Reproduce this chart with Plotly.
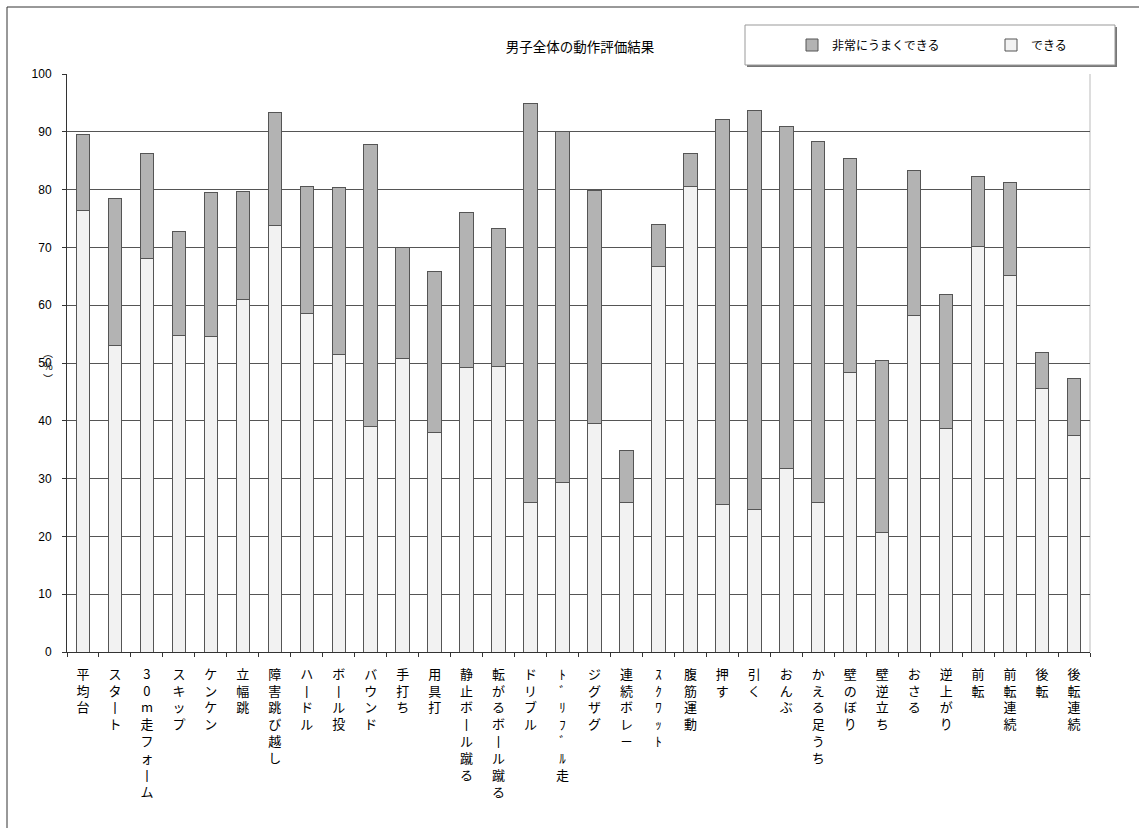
import plotly.graph_objects as go

# ---- data ----
categories = ["平均台", "スタート", "30m走フォーム", "スキップ", "ケンケン", "立幅跳",
              "障害跳び越し", "ハードル", "ボール投", "バウンド", "手打ち", "用具打",
              "静止ボール蹴る", "転がるボール蹴る", "ドリブル", "ﾄﾞﾘﾌﾞﾙ走", "ジグザグ",
              "連続ボレ－", "ｽｸﾜｯﾄ", "腹筋運動", "押す", "引く", "おんぶ", "かえる足うち",
              "壁のぼり", "壁逆立ち", "おさる", "逆上がり", "前転", "前転連続", "後転", "後転連続"]

dekiru = [76.3, 53.0, 68.0, 54.8, 54.5, 61.0, 73.8, 58.6, 51.4, 39.0, 50.7, 38.0,
          49.2, 49.4, 25.9, 29.3, 39.5, 25.9, 66.7, 80.5, 25.5, 24.7, 31.8, 25.9,
          48.3, 20.6, 58.2, 38.7, 70.2, 65.2, 45.6, 37.4]

hijou = [13.2, 25.4, 18.2, 18.0, 25.0, 18.7, 19.6, 21.9, 28.9, 48.8, 19.3, 27.9,
         26.9, 23.8, 69.0, 60.7, 40.4, 8.9, 7.3, 5.7, 66.6, 69.0, 59.2, 62.5,
         37.0, 29.9, 25.1, 23.2, 12.1, 16.1, 6.3, 10.0]

y_ticks = [0, 10, 20, 30, 40, 50, 60, 70, 80, 90, 100]

title_text = "男子全体の動作評価結果"
name_hijou = "非常にうまくできる"
name_dekiru = "できる"


def vertical(s):
    return "<br>".join("丨" if c == "ー" else c for c in s)


tick_text = [vertical(c) for c in categories]

# ---- layout geometry (pixels) ----
W, H = 1139, 828
L, R, T, B = 67, 1090, 74, 652


def px(x):
    return (x - L) / (R - L)


def py(y):
    return (B - y) / (B - T)


jp_font = "Noto Sans CJK JP"
num_font = "Liberation Sans, Arial"

fig = go.Figure()
fig.add_trace(go.Bar(
    x=categories, y=dekiru, name=name_dekiru, legend="legend2",
    marker=dict(color="#f2f2f2", line=dict(color="#555555", width=1)),
    width=0.42,
))
fig.add_trace(go.Bar(
    x=categories, y=hijou, name=name_hijou, legend="legend",
    marker=dict(color="#b3b3b3", line=dict(color="#555555", width=1)),
    width=0.42,
))

shapes = [
    # outer frame (top and left edges)
    dict(type="line", xref="paper", yref="paper", x0=px(7), x1=px(1145), y0=py(7), y1=py(7),
         line=dict(color="#333333", width=1)),
    dict(type="line", xref="paper", yref="paper", x0=px(7), x1=px(7), y0=py(7), y1=py(835),
         line=dict(color="#333333", width=1)),
    # plot area right border
    dict(type="line", xref="paper", yref="paper", x0=1, x1=1, y0=0, y1=1,
         line=dict(color="#bbbbbb", width=1), layer="below"),
    # legend box shadow + box
    dict(type="rect", xref="paper", yref="paper", x0=px(747), x1=px(1117), y0=py(67), y1=py(27),
         fillcolor="#777777", line=dict(width=0)),
    dict(type="rect", xref="paper", yref="paper", x0=px(745), x1=px(1115), y0=py(65), y1=py(25),
         fillcolor="white", line=dict(color="#999999", width=1)),
]

legend_common = dict(orientation="h", yanchor="middle", xanchor="left",
                     bgcolor="rgba(0,0,0,0)", borderwidth=0,
                     font=dict(family=jp_font, size=12, color="black"),
                     itemwidth=30)

fig.update_layout(
    width=W, height=H,
    margin=dict(l=L, r=W - R, t=T, b=H - B, pad=0, autoexpand=False),
    paper_bgcolor="white", plot_bgcolor="white",
    barmode="stack",
    title=dict(text=title_text, x=580 / W, xanchor="center", xref="container",
               y=1 - 47 / H, yanchor="middle",
               font=dict(family=jp_font, size=13.5, color="black")),
    legend=dict(x=px(792), y=py(45), **legend_common),
    legend2=dict(x=px(991), y=py(45), **legend_common),
    shapes=shapes,
    showlegend=True,
)

fig.update_xaxes(
    type="category", automargin=False,
    tickmode="array", tickvals=categories, ticktext=tick_text,
    tickangle=0,
    tickson="boundaries", ticks="outside", ticklen=4, tickcolor="#333333",
    showline=True, linecolor="#333333", linewidth=1,
    showgrid=False,
    tickfont=dict(family=jp_font, size=13, color="black"),
    ticklabelstandoff=10,
    range=[-0.5, len(categories) - 0.5],
)

fig.update_yaxes(
    range=[0, 100], automargin=False,
    tickmode="array", tickvals=y_ticks,
    ticks="outside", ticklen=4, tickcolor="#333333",
    showline=True, linecolor="#333333", linewidth=1,
    showgrid=True, gridcolor="#555555", gridwidth=1,
    zeroline=False,
    tickfont=dict(family=num_font, size=12, color="black"),
    ticklabelstandoff=8,
)

# y-axis unit label (vertical "（％）")
fig.add_annotation(
    text="︵<br>%<br>︶", xref="paper", yref="paper",
    x=px(48), y=py(365), xanchor="center", yanchor="middle",
    showarrow=False, font=dict(family=jp_font, size=10, color="black"),
)

fig.write_html("out.html")
